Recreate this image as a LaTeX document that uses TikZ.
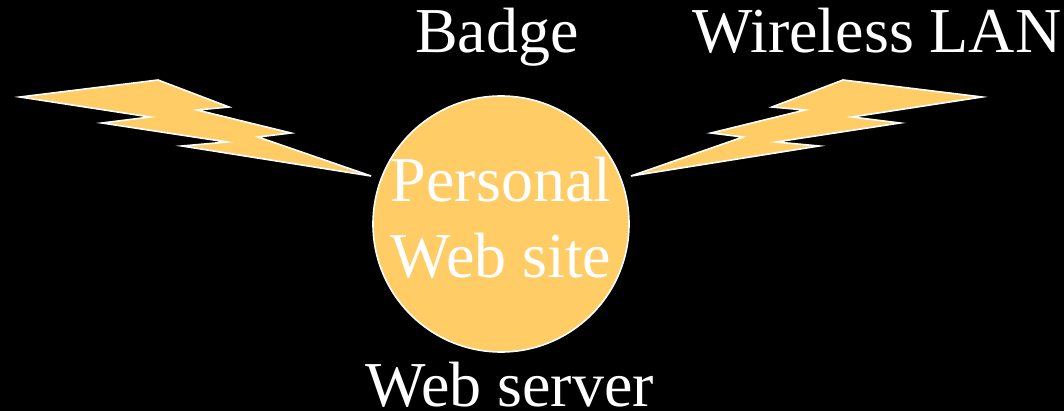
\documentclass[tikz,border=0pt]{standalone}
\usepackage{fontspec}
\setmainfont{Liberation Serif}
\definecolor{boltfill}{RGB}{255,204,102}

\begin{document}
\begin{tikzpicture}[x=1pt,y=-1pt,
   every node/.style={text=white,font=\fontsize{64}{75}\selectfont,anchor=base,inner sep=0pt},
   shape fill/.style={draw=white,fill=boltfill,line width=1.6pt,line join=miter}]
\useasboundingbox[fill=black] (0,0) rectangle (1064,411);
\draw[shape fill] (20,97) -- (158,80) -- (229,107) -- (197,110) -- (291,133) -- (258,137)
   -- (371,176) -- (182,146) -- (227,142) -- (102,123) -- (150,117) -- cycle;
\draw[shape fill] (982,97) -- (843,80) -- (772,107) -- (805,110) -- (711,133) -- (743,137)
   -- (631,176) -- (819,146) -- (776,142) -- (900,123) -- (852,117) -- cycle;
\node[shape fill,circle,minimum size=256pt,anchor=center] (site) at (501,224) {};
\node (personal) at (501,202) {Personal};
\node (website) at (501,278) {Web site};
\node (badge) at (497,53) {Badge};
\node (lan) at (877,53) {Wireless LAN};
\node (server) at (510,406) {Web server};
\end{tikzpicture}
\end{document}
